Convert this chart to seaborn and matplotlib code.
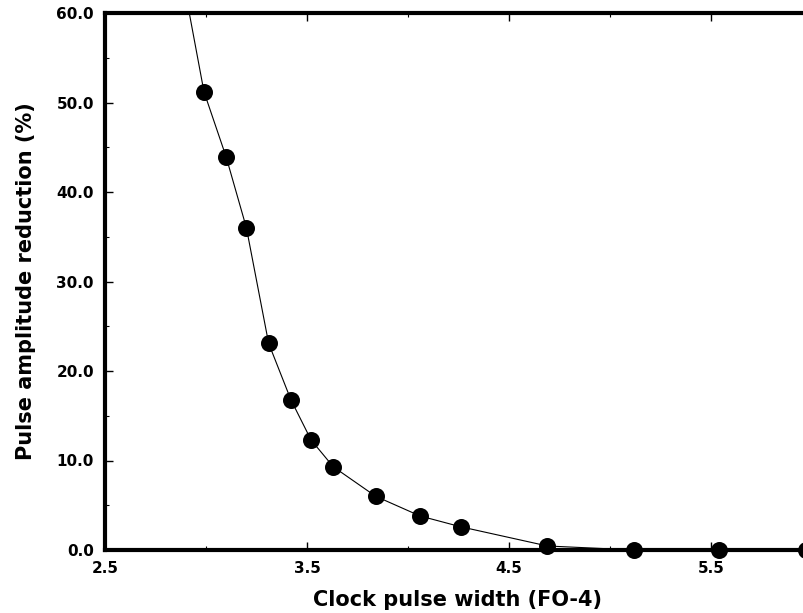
import matplotlib
matplotlib.use("Agg")
import matplotlib.pyplot as plt
import seaborn as sns
import pandas as pd
from matplotlib.ticker import MultipleLocator, FormatStrFormatter

# Data
pulse_width = [2.99, 3.10, 3.20, 3.31, 3.42, 3.52, 3.63, 3.84, 4.06, 4.26, 4.69, 5.12, 5.54, 5.97]
reduction = [51.2, 43.9, 36.0, 23.1, 16.8, 12.3, 9.3, 6.0, 3.8, 2.6, 0.45, 0.0, 0.0, 0.0]
# curve continues above the plotted range on the left
curve_width = [2.88] + pulse_width
curve_reduction = [64.5] + reduction

df_pts = pd.DataFrame({"x": pulse_width, "y": reduction})
df_line = pd.DataFrame({"x": curve_width, "y": curve_reduction})

sns.set_style("ticks")
plt.rcParams['font.family'] = ['DejaVu Sans']
plt.rcParams['font.weight'] = 'bold'
plt.rcParams['text.color'] = 'black'
plt.rcParams['axes.labelcolor'] = 'black'
plt.rcParams['xtick.color'] = 'black'
plt.rcParams['ytick.color'] = 'black'

fig = plt.figure(figsize=(8.04, 6.13), dpi=100)
ax = fig.add_axes([105/804, 63/613, 707/804, 537/613])

sns.lineplot(data=df_line, x="x", y="y", ax=ax, color="black", linewidth=0.8,
             sort=False, estimator=None)
sns.scatterplot(data=df_pts, x="x", y="y", ax=ax, color="black", s=150,
                edgecolor="black", linewidth=0, clip_on=False, zorder=5)

ax.set_xlim(2.5, 6.0)
ax.set_ylim(0, 60)
ax.set_xticks([2.5, 3.5, 4.5, 5.5])
ax.xaxis.set_minor_locator(MultipleLocator(0.5))
ax.yaxis.set_major_locator(MultipleLocator(10))
ax.yaxis.set_minor_locator(MultipleLocator(5))
ax.xaxis.set_major_formatter(FormatStrFormatter('%.1f'))
ax.yaxis.set_major_formatter(FormatStrFormatter('%.1f'))

ax.tick_params(which='both', direction='in', top=True, right=True, color='black',
               labelcolor='black')
ax.tick_params(which='major', length=6, width=1.0, labelsize=11, pad=8)
ax.tick_params(which='minor', length=3, width=0.8)
for lab in ax.get_xticklabels() + ax.get_yticklabels():
    lab.set_fontweight('bold')

for side in ['left', 'bottom', 'top', 'right']:
    ax.spines[side].set_linewidth(3)
    ax.spines[side].set_color('black')

ax.set_xlabel("Clock pulse width (FO-4)", fontsize=15, fontweight='bold', color='black')
ax.set_ylabel("Pulse amplitude reduction (%)", fontsize=15, fontweight='bold', color='black')
ax.xaxis.set_label_coords((458 - 105) / 707, -(600 - 550) / 537)
ax.xaxis.label.set_va('center')
ax.yaxis.set_label_coords(-(105 - 26) / 707, 0.5)
ax.yaxis.label.set_va('center')

fig.savefig("out.png", dpi=100)
